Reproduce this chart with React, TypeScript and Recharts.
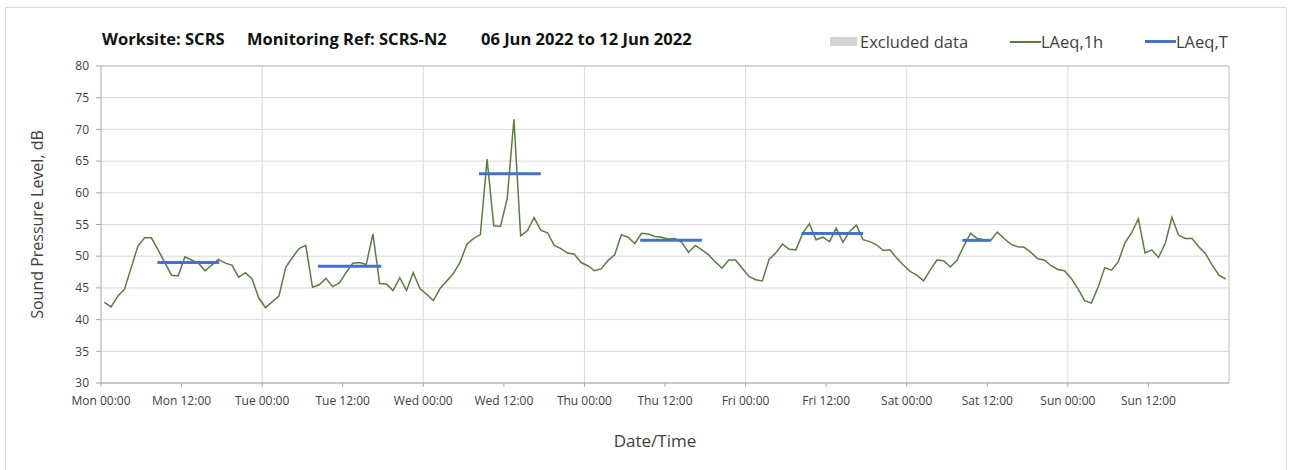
import React from 'react';
import { LineChart, Line, XAxis, YAxis, CartesianGrid, ReferenceLine } from 'recharts';

// hourly LAeq,1h readings (dB), one array per day, 00:00 .. 23:00
const monLevels = [42.7, 42.0, 43.7, 44.8, 48.2, 51.6, 52.9, 52.9, 51.0, 49.0, 47.0, 46.9, 49.9, 49.4, 48.9, 47.7, 48.6, 49.5, 48.9, 48.6, 46.7, 47.4, 46.4, 43.4];
const tueLevels = [41.9, 42.8, 43.7, 48.2, 49.8, 51.2, 51.7, 45.1, 45.5, 46.5, 45.2, 45.8, 47.4, 48.9, 49.0, 48.7, 53.5, 45.7, 45.6, 44.6, 46.6, 44.6, 47.4, 44.9];
const wedLevels = [44.0, 43.0, 44.9, 46.1, 47.3, 49.1, 51.9, 52.8, 53.4, 65.3, 54.8, 54.7, 59.1, 71.6, 53.2, 54.0, 56.1, 54.1, 53.7, 51.7, 51.2, 50.5, 50.3, 49.0];
const thuLevels = [48.5, 47.7, 48.0, 49.3, 50.2, 53.4, 53.0, 52.0, 53.6, 53.5, 53.1, 53.0, 52.7, 52.8, 52.2, 50.6, 51.7, 51.0, 50.2, 49.1, 48.1, 49.4, 49.4, 48.1];
const friLevels = [46.8, 46.3, 46.1, 49.5, 50.5, 51.9, 51.1, 51.0, 53.6, 55.1, 52.6, 53.0, 52.3, 54.4, 52.2, 53.9, 54.9, 52.6, 52.3, 51.8, 50.9, 51.0, 49.7, 48.6];
const satLevels = [47.6, 47.0, 46.1, 47.8, 49.4, 49.3, 48.3, 49.4, 51.6, 53.6, 52.8, 52.6, 52.5, 53.8, 52.8, 51.9, 51.5, 51.4, 50.6, 49.6, 49.4, 48.5, 47.9, 47.7];
const sunLevels = [46.5, 44.9, 43.0, 42.6, 45.1, 48.2, 47.8, 49.1, 52.1, 53.7, 55.9, 50.5, 51.0, 49.8, 52.0, 56.1, 53.3, 52.8, 52.8, 51.5, 50.4, 48.6, 47.0, 46.4];

// LAeq,T daytime periods: start / end (hours from Mon 00:00) and level
const periodStart = [8.4, 32.3, 56.3, 80.3, 104.35, 128.3];
const periodEnd = [17.6, 41.75, 65.5, 89.5, 113.5, 132.5];
const periodLevels = [49.0, 48.4, 63.0, 52.5, 53.6, 52.5];

const dayNames = ['Mon', 'Tue', 'Wed', 'Thu', 'Fri', 'Sat', 'Sun'];
const xTicks = [0, 12, 24, 36, 48, 60, 72, 84, 96, 108, 120, 132, 144, 156];
const dayLines = [24, 48, 72, 96, 120, 144];
const yTicks = [30, 35, 40, 45, 50, 55, 60, 65, 70, 75, 80];

const hourly = [...monLevels, ...tueLevels, ...wedLevels, ...thuLevels, ...friLevels, ...satLevels, ...sunLevels];
const hourlyData = hourly.map((v, i) => ({ x: i + 0.5, y: v }));
const periodData = periodLevels.map((v, i) => [
  { x: periodStart[i], y: v },
  { x: periodEnd[i], y: v },
]);

const FONT = '"Open Sans", sans-serif';
const GREEN = '#5b7b43';
const BLUE = '#4472c4';

const fmtX = (h: number) => `${dayNames[Math.floor(h / 24)]} ${h % 24 === 0 ? '00:00' : '12:00'}`;

const YTitle = (props: any) => {
  const { viewBox } = props;
  const x = viewBox.x + 37;
  const y = viewBox.y + viewBox.height / 2;
  return (
    <text x={x} y={y} transform={`rotate(-90 ${x} ${y})`} textAnchor="middle" dominantBaseline="central"
      fontFamily={FONT} fontSize={16} fill="#404040">
      Sound Pressure Level, dB
    </text>
  );
};

const XTitle = (props: any) => {
  const { viewBox } = props;
  return (
    <text x={655} y={viewBox.y + 57} textAnchor="middle" dominantBaseline="central"
      fontFamily={FONT} fontSize={17} fill="#404040">
      Date/Time
    </text>
  );
};

const legendText: React.CSSProperties = { position: 'absolute', top: 30, fontSize: 16.5, color: '#404040', fontFamily: FONT, whiteSpace: 'pre' };

export default function App() {
  return (
    <div style={{ position: 'absolute', top: 0, left: 0, width: 1295, height: 470, background: '#fff', overflow: 'hidden' }}>
      <div style={{ position: 'absolute', left: 5, top: 7, width: 1280, height: 480, border: '1px solid #d9d9d9' }} />
      <div style={{ position: 'absolute', top: 27, left: 102, fontFamily: FONT, fontWeight: 700, fontSize: 16.5, color: '#111', whiteSpace: 'pre' }}>
        <span style={{ position: 'absolute', left: 0 }}>Worksite: SCRS</span>
        <span style={{ position: 'absolute', left: 145 }}>Monitoring Ref: SCRS-N2</span>
        <span style={{ position: 'absolute', left: 379 }}>06 Jun 2022 to 12 Jun 2022</span>
      </div>
      <div style={{ position: 'absolute', left: 830, top: 37, width: 27, height: 9, background: '#d4d4d4' }} />
      <span style={{ ...legendText, left: 860 }}>Excluded data</span>
      <div style={{ position: 'absolute', left: 1010, top: 41, width: 31, height: 1.5, background: GREEN }} />
      <span style={{ ...legendText, left: 1041 }}>LAeq,1h</span>
      <div style={{ position: 'absolute', left: 1145, top: 40, width: 31, height: 3, background: BLUE }} />
      <span style={{ ...legendText, left: 1176 }}>LAeq,T</span>

      <LineChart width={1295} height={470} margin={{ top: 66, right: 66, bottom: 0, left: 0 }} style={{ position: 'absolute', top: 0, left: 0 }}>
        <CartesianGrid vertical={false} stroke="#d9d9d9" />
        {dayLines.map((d) => (
          <ReferenceLine key={d} x={d} stroke="#d9d9d9" />
        ))}
        <ReferenceLine x={168} stroke="#bfbfbf" />
        <ReferenceLine y={80} stroke="#bfbfbf" />
        <XAxis
          type="number"
          dataKey="x"
          domain={[0, 168]}
          ticks={xTicks}
          tickFormatter={fmtX}
          height={87}
          stroke="#a6a6a6"
          tickSize={4}
          tickMargin={9}
          tick={{ fontSize: 12, fill: '#404040', fontFamily: FONT }}
          label={XTitle}
          allowDataOverflow
        />
        <YAxis
          type="number"
          domain={[30, 80]}
          ticks={yTicks}
          width={101}
          stroke="#a6a6a6"
          tickSize={5}
          tickMargin={7}
          tick={{ fontSize: 12, fill: '#404040', fontFamily: FONT }}
          label={YTitle}
          allowDataOverflow
        />
        <Line data={hourlyData} dataKey="y" type="linear" stroke={GREEN} strokeWidth={1.5} dot={false} isAnimationActive={false} />
        {periodData.map((seg, i) => (
          <Line key={i} data={seg} dataKey="y" type="linear" stroke={BLUE} strokeWidth={3} dot={false} isAnimationActive={false} />
        ))}
      </LineChart>
    </div>
  );
}
